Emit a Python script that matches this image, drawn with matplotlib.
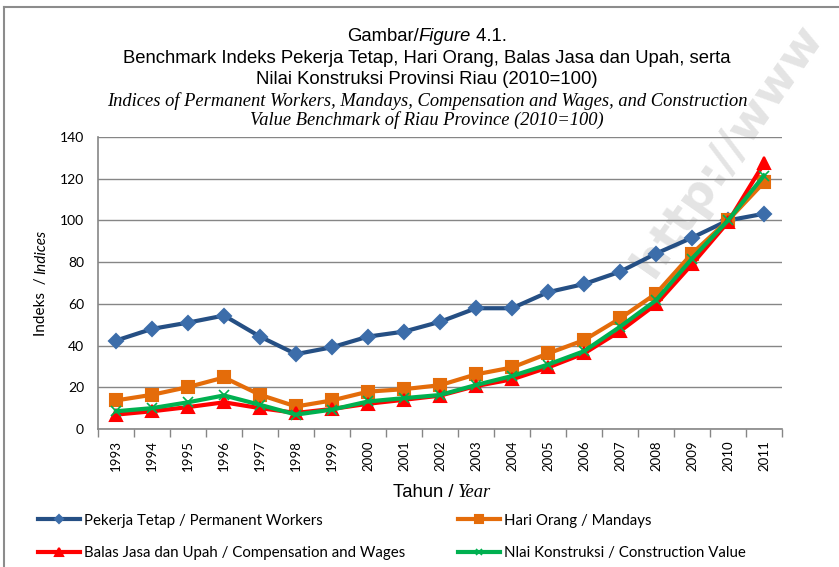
import matplotlib
matplotlib.use("Agg")
import matplotlib.pyplot as plt
from matplotlib.lines import Line2D

years = [str(y) for y in range(1993, 2012)]

permanent_workers = [42.4, 48.0, 51.0, 54.4, 44.3, 35.9, 39.2, 44.3, 46.7, 51.4,
                     57.9, 57.9, 65.6, 69.5, 75.4, 84.1, 91.7, 100.0, 103.2]
mandays = [13.7, 16.4, 20.1, 24.7, 16.4, 10.8, 13.7, 17.9, 19.1, 21.0,
           26.2, 29.5, 36.2, 42.6, 53.0, 64.9, 84.1, 100.0, 118.3]
compensation = [6.9, 8.5, 10.5, 12.8, 10.0, 7.7, 9.6, 12.1, 14.0, 16.0,
                20.6, 23.8, 29.5, 36.2, 46.9, 59.8, 79.0, 99.2, 127.4]
construction = [8.5, 10.0, 12.8, 16.1, 11.6, 6.9, 9.3, 13.2, 14.8, 16.3,
                21.1, 25.4, 30.9, 37.3, 49.0, 61.7, 81.7, 100.0, 121.5]

labels = [
    "Pekerja Tetap / Permanent Workers",
    "Hari Orang / Mandays",
    "Balas Jasa dan Upah / Compensation and Wages",
    "Nlai Konstruksi / Construction Value",
]

W, H = 839, 567
fig = plt.figure(figsize=(W / 100, H / 100), dpi=100)
ax = fig.add_axes([98 / W, 1 - 429 / H, (782 - 98) / W, (429 - 137) / H])
ax.patch.set_alpha(0)
renderer = fig.canvas.get_renderer()


def mixed_text(cx, cy, parts, rotation=0):
    # place several differently styled pieces centred on (cx, cy) in pixels, cy = baseline
    pieces = []
    for s, kw in parts:
        t = fig.text(0, 0, s, ha="left", va="baseline", rotation_mode="anchor", **kw)
        pieces.append((t, t.get_window_extent(renderer).width))
    total = sum(w for _, w in pieces)
    pos = -total / 2
    for t, w in pieces:
        if rotation == 0:
            t.set_position(((cx + pos) / W, 1 - cy / H))
        else:
            t.set_rotation(rotation)
            t.set_position((cx / W, 1 - (cy - pos) / H))
        pos += w


x = list(range(len(years)))
styles = [
    (permanent_workers, "#254F84", "D", "#3C6DAA", 7),
    (mandays, "#E46C0A", "s", "#E46C0A", 8.5),
    (compensation, "#FF0000", "^", "#FF0000", 8.5),
    (construction, "#00B050", "x", "#00B050", 7),
]
handles = []
for (vals, col, mk, mfc, ms), lab in zip(styles, labels):
    ln, = ax.plot(x, vals, color=col, lw=3, marker=mk, markersize=ms,
                  markerfacecolor=mfc, markeredgecolor=mfc, mew=1.5 if mk != "x" else 1.2,
                  label=lab, zorder=3)
    handles.append(ln)

ax.set_ylim(0, 140)
ax.set_yticks(range(0, 141, 20))
ax.set_xlim(-0.5, len(years) - 0.5)
ax.set_xticks(x)
ax.set_xticklabels(years, rotation=90, fontsize=9.5, family="Lato")
ax.set_xticks([i - 0.5 for i in range(len(years) + 1)], minor=True)
ax.tick_params(axis="x", which="major", length=0, pad=8)
ax.tick_params(axis="x", which="minor", length=6, color="#868686", width=1, direction="out")
ax.tick_params(axis="y", length=0, pad=10, labelsize=10)
for t in ax.get_yticklabels():
    t.set_family("Lato")
ax.grid(axis="y", color="#868686", lw=1)
ax.set_axisbelow(True)
for s in ["top", "right"]:
    ax.spines[s].set_visible(False)
for s in ["left", "bottom"]:
    ax.spines[s].set_color("#868686")
    ax.spines[s].set_linewidth(1.2)

sans = {"fontsize": 13.3, "family": "Liberation Sans"}
serif_it = {"fontsize": 13.3, "family": "Liberation Serif", "style": "italic"}
cx = 427
mixed_text(cx, 41, [("Gambar/", sans), ("Figure", dict(sans, style="italic")), (" 4.1.", sans)])
mixed_text(cx, 63, [("Benchmark Indeks Pekerja Tetap, Hari Orang, Balas Jasa dan Upah, serta", sans)])
mixed_text(cx, 84, [("Nilai Konstruksi Provinsi Riau (2010=100)", sans)])
mixed_text(cx, 106, [("Indices of Permanent Workers, Mandays, Compensation and Wages, and Construction", serif_it)])
mixed_text(cx, 125, [("Value Benchmark of Riau Province (2010=100)", serif_it)])

mixed_text(442, 497, [("Tahun / ", {"fontsize": 13.3, "family": "Liberation Sans"}),
                      ("Year", {"fontsize": 13.3, "family": "Liberation Serif", "style": "italic"})])
mixed_text(45, 283, [("Indeks  / ", {"fontsize": 11, "family": "Lato"}),
                     ("Indices", {"fontsize": 11, "family": "Lato", "style": "italic"})], rotation=90)

leg_handles = [handles[0], handles[2], handles[1], handles[3]]
leg_labels = [labels[0], labels[2], labels[1], labels[3]]
leg = fig.legend(leg_handles, leg_labels, ncol=2, loc="upper left",
                 bbox_to_anchor=(24 / W, 1 - 500 / H), frameon=False,
                 handlelength=2.8, handletextpad=0.27, columnspacing=3.55,
                 labelspacing=1.25, markerscale=0.6, prop={"family": "Lato", "size": 10.8})

wm = fig.text(728 / W, 1 - 150 / H, "http://www", rotation=55, ha="center", va="center",
              fontsize=34, fontweight="bold", color="#e4e4e4", family="DejaVu Sans")
wm.set_zorder(-1)

fig.add_artist(Line2D([4 / W, 1], [1 - 7 / H, 1 - 7 / H], color="#8c8c8c", lw=1.5))
fig.add_artist(Line2D([4 / W, 4 / W], [0, 1 - 7 / H], color="#8c8c8c", lw=1.5))

fig.savefig("out.png", dpi=100)
